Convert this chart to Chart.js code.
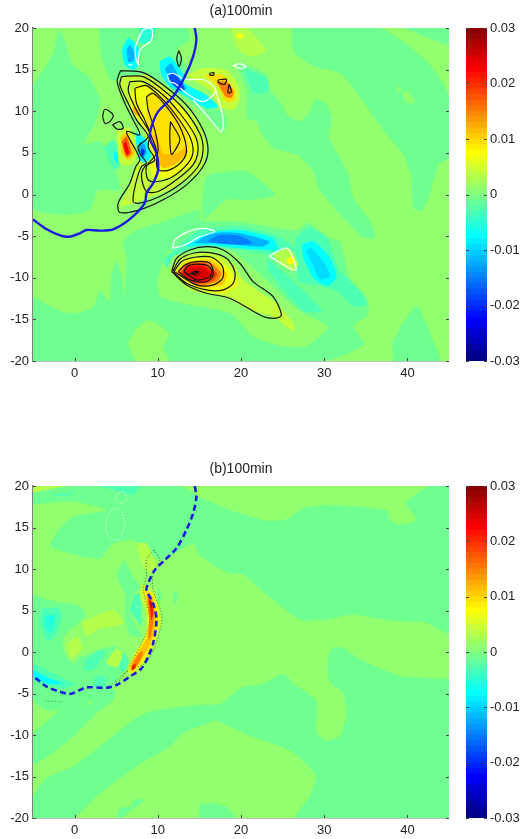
<!DOCTYPE html>
<html>
<head>
<meta charset="utf-8">
<title>100min</title>
<script src="https://cdn.jsdelivr.net/npm/chart.js@4/dist/chart.umd.min.js"></script>
<style>
  html, body { margin: 0; padding: 0; background: #fff; }
  canvas { position: absolute; }
</style>
</head>
<body>
<canvas id="plotA" width="449" height="385" style="left:0;top:0"></canvas>
<canvas id="barA" width="62" height="385" style="left:460px;top:0"></canvas>
<canvas id="plotB" width="449" height="384" style="left:0;top:458px"></canvas>
<canvas id="barB" width="62" height="384" style="left:460px;top:458px"></canvas>
<script>
const xTicks = [0, 10, 20, 30, 40];
const yTicks = [-20, -15, -10, -5, 0, 5, 10, 15, 20];
const barTicks = [-0.03, -0.02, -0.01, 0, 0.01, 0.02, 0.03];
const barEdges = [-0.03,-0.029,-0.028,-0.027,-0.026,-0.025,-0.024,-0.023,-0.022,-0.021,-0.02,-0.019,-0.018,-0.017,-0.016,-0.015,-0.014,-0.013,-0.012,-0.011,-0.01,-0.009,-0.008,-0.007,-0.006,-0.005,-0.004,-0.003,-0.002,-0.001,0,0.001,0.002,0.003,0.004,0.005,0.006,0.007,0.008,0.009,0.01,0.011,0.012,0.013,0.014,0.015,0.016,0.017,0.018,0.019,0.02,0.021,0.022,0.023,0.024,0.025,0.026,0.027,0.028,0.029,0.03];

const frame = [[-5,-20],[45,-20],[45,20],[-5,20]];

// panel (a) shaded field
const aTealRight = [[26.1,20],[26.3,17.2],[28.7,15.4],[31.9,14.6],[33.5,12.8],[35.5,10],[37.5,7.2],[39.5,4.8],[40.5,2],[40.7,-1.6],[41.7,-2],[42.7,0],[43.7,3.6],[45,4.4],[45,11.8],[42.3,16],[36.7,20]];
const aTealCorner = [[39.5,20],[45,18],[45,20]];
const aGreenPatch1 = [[38.7,13.2],[39.3,12.6],[39.1,12.2],[38.7,12.6]];
const aGreenPatch2 = [[39.3,12.2],[40.1,12.4],[40.9,11],[39.9,11]];
const aTealMid = [[20.3,15.68],[23.1,14.4],[23.5,12.4],[24.7,11.2],[25.5,9.6],[27.1,8.8],[28.3,10],[28.9,11.4],[30.3,10.8],[30.9,9.2],[30.6,6.8],[31.9,4.4],[32.9,2.4],[33.5,-0.4],[35.5,-3.2],[36.1,-5.2],[34.7,-5.2],[33.1,-3.6],[31.5,-2],[29.3,0.8],[28.7,2.8],[26.7,4.8],[23.9,5.6],[22.3,7.6],[21.9,8.8],[20.7,9.2],[20.7,12.4],[19.5,15.6]];
const aTealPatch = [[18.7,2.8],[20.7,2.8],[24.1,0],[21.1,-0.7],[18.24,-0.64],[15.44,-3.04],[15.84,2.16]];
const aTealLower = [[-5,-12.3],[-1.4,-14.1],[0.6,-14.2],[2.4,-13.3],[3,-11.5],[4.2,-12.9],[4.4,-9.9],[5,-8],[5.6,-9.5],[6,-12.2],[6.2,-7.5],[5.8,-5.7],[7.4,-4.3],[10.6,-3.3],[15.04,-1.86],[15.06,-3.06],[19.9,-3.3],[26.7,-4.3],[28.1,-3.4],[30.7,-5.2],[31.9,-5.6],[33.1,-10],[35.1,-12.4],[35.3,-14.4],[33.5,-15.8],[34.8,-18],[30,-20],[-5,-20]];
const aGreenBottom = [[6.4,-17.9],[7.4,-16.1],[9,-15.1],[11.4,-16.7],[10.6,-18.3],[11.4,-20],[7.4,-20]];
const aGreenTail = [[9.9,-10.3],[10.3,-12.3],[13.1,-13.1],[18.7,-14.3],[21.5,-17.1],[24.3,-18.1],[27.7,-18.3],[30.5,-15.9],[27.5,-14.3],[25.5,-12.7],[23.5,-10.7],[18.7,-6.7],[11.5,-6.7]];
const aTealBottomRight = [[38.3,-20],[38.3,-17.6],[41.1,-13.4],[43.1,-17.6],[43.9,-20]];
const aTealUpperLeft = [[-1.96,20],[-1.16,18.56],[-0.36,15.76],[1.64,14.16],[3.04,11.36],[2.44,8.56],[1.24,6.16],[3.24,6.36],[4.84,2.96],[5.44,0.56],[2.8,0.5],[1.84,-1.86],[-0.56,-2.46],[-3.36,-2.26],[-5,-1.66],[-5,12.96],[-3.76,14.96],[-2.56,16.96]];
const aTealTop = [[2.84,20],[13.44,20],[13.84,18.56],[12.24,17.36],[13.44,15.36],[13.04,13.36],[18.24,9.36],[17.84,7.36],[15.44,9.76],[10.64,13.36],[7.04,14.16],[4.44,13.76],[3.24,16.56]];
const aLimeTop = [[18.7,20],[20.7,20],[23.1,17.2],[21.1,16.6],[19.5,17.6]];
const aYellowTop = [[19.5,19.4],[20.3,19.2],[20,18.7],[19.5,18.9]];
const aTealSpot = [[20.3,15.2],[23.1,14],[23.3,12.4],[21.5,12.2]];
const aOrange1 = [[13.44,14.36],[15.44,15.16],[18.24,14.96],[19.64,13.16],[19.84,11.36],[19.04,10.16],[17.44,10.56],[16.24,12.56],[14.24,13.76]];
const aOrange2 = [[15.64,14.36],[17.84,14.36],[19.24,12.56],[19.24,11.36],[18.24,11.16],[17.24,12.96]];
const aOrange3 = [[17.04,13.56],[18.24,13.56],[19.12,12.36],[18.84,11.56],[18.16,11.76]];
const aBlue1 = [[10.24,15.96],[11.44,16.56],[13.04,14.56],[13.24,13.36],[15.84,11.96],[17.24,10.56],[15.84,10.36],[13.44,11.76],[11.44,12.96],[10.44,14.36]];
const aBlue2 = [[10.84,15.16],[11.64,15.76],[12.64,13.96],[13.44,12.76],[12.84,12.36],[11.44,13.56]];
const aBlue3 = [[11.24,14.36],[12.04,14.56],[13.04,13.16],[13.24,12.56],[12.64,12.56],[11.64,13.36]];
const aUpperCyan = [[5.64,17.36],[6.44,18.76],[7.64,17.76],[7.84,15.76],[7.04,14.96],[6.04,15.56]];
const aUpperBlue = [[6.24,17.36],[6.64,17.96],[7.24,16.96],[7.04,15.96],[6.44,15.96]];
const aTopCyan = [[7.84,20],[9.64,20],[9.24,18.56],[7.84,18.16]];
const aYellow1 = [[5.64,14.16],[8.64,14.36],[11.84,11.96],[14.64,8.96],[15.84,5.76],[15.04,2.96],[12.24,0.96],[8.24,-0.64],[5.44,-1.44],[6.64,0.96],[7.44,3.76],[9.04,5.76],[7.44,9.36],[5.44,12.56]];
const aYellow2 = [[7.44,13.36],[10.64,12.76],[13.24,10.16],[14.84,6.56],[14.24,3.76],[11.44,1.96],[9.44,2.16],[8.84,4.96],[8.44,7.76],[7.04,9.76],[6.64,11.76]];
const aYellow3 = [[8.84,12.16],[10.64,11.76],[12.64,9.36],[13.76,6.16],[13.24,4.36],[11.24,3.16],[10.04,3.76],[9.24,6.56],[8.64,8.96]];
const aYellow4 = [[9.84,7.36],[10.64,4.96],[12.24,4.96],[13.24,5.56],[13.64,5.16],[12.24,3.76],[10.64,3.16],[10.04,3.96],[9.44,6.96]];
const aYellowSpot = [[7.24,10.56],[8.04,9.76],[7.64,9.36],[6.84,10.16]];
const aRed1 = [[5.04,7.76],[6.64,7.96],[7.64,4.96],[6.84,3.56],[5.44,3.76]];
const aRed2 = [[5.52,6.96],[6.32,7.56],[7.24,4.96],[6.44,4.16],[5.64,4.96]];
const aRed3 = [[5.64,6.36],[6.24,6.96],[6.84,4.96],[6.24,4.48]];
const aRed4 = [[5.84,5.96],[6.16,6.36],[6.56,4.96],[6.24,4.76]];
const aNear1 = [[7.36,7.56],[8.64,6.56],[9.24,4.56],[8.44,3.76],[7.64,4.36],[7.44,5.96]];
const aNear2 = [[7.76,6.36],[8.44,5.96],[8.64,4.96],[8.04,4.36],[7.76,5.16]];
const aNear3 = [[8.04,5.56],[8.44,5.28],[8.24,4.64],[7.96,4.96]];
const aLeft1 = [[3.64,5.76],[4.64,6.56],[5.64,4.96],[5.44,3.36],[4.84,2.96],[4.04,4.16]];
const aLeft2 = [[4.84,5.36],[5.24,4.76],[5.12,3.76],[4.72,4.36]];
const aBand1 = [[10.66,-7.86],[11.86,-6.66],[15.06,-4.26],[19.86,-3.86],[24.26,-4.86],[26.66,-6.66],[24.26,-7.26],[19.86,-6.66],[15.46,-6.26],[11.86,-7.46],[11.06,-8.86]];
const aBand2 = [[13.26,-6.26],[15.86,-4.66],[19.86,-4.26],[23.86,-5.26],[24.46,-6.66],[23.06,-6.66],[19.86,-6.46],[16.26,-6.06]];
const aBand3 = [[14.26,-5.86],[16.66,-4.66],[19.86,-4.66],[23.46,-5.66],[22.66,-6.26],[19.86,-6.06],[16.66,-5.86]];
const aBand4 = [[15.86,-5.66],[17.46,-4.86],[19.86,-4.98],[21.46,-5.86],[19.86,-6.06],[17.06,-5.86]];
const aSide1 = [[26.5,-5.2],[28.1,-4],[30.3,-5.2],[31.9,-9.2],[34.3,-11.6],[35.1,-13.2],[33.5,-13.4],[31.5,-11.6],[28.7,-10.8],[26.9,-10.4]];
const aSide2 = [[27.3,-6],[28.7,-5.6],[30.7,-7.6],[31.5,-10],[30.3,-11],[28.7,-10],[27.5,-7.6]];
const aSide3 = [[27.82,-6.8],[28.5,-6.4],[30.1,-8.4],[30.7,-9.8],[29.5,-10.2],[28.5,-8.2]];
const aSideBand = [[23.1,-7.6],[26.3,-10.4],[29.7,-14],[27.5,-14],[23.3,-9.2]];
const aSpotLime = [[23.9,-7.2],[25.7,-6.4],[26.9,-8.4],[26.3,-9.2],[24.7,-8.4]];
const aSpotYellow = [[25.42,-7.8],[26.3,-7.4],[26.5,-8.2],[25.82,-8.4]];
const aCore1 = [[11.46,-9.26],[12.66,-7.46],[15.86,-6.86],[19.06,-8.26],[20.26,-10.26],[24.26,-13.06],[26.26,-15.46],[26.26,-16.46],[23.86,-14.66],[21.06,-13.86],[17.86,-12.26],[13.86,-11.46]];
const aCore2 = [[11.86,-9.46],[13.46,-7.86],[17.06,-7.66],[18.86,-9.26],[19.66,-10.86],[17.86,-11.86],[14.66,-11.26]];
const aCore3 = [[12.06,-9.46],[13.46,-8.06],[16.46,-7.86],[18.26,-9.46],[17.86,-10.86],[15.06,-11.14]];
const aCore4 = [[12.26,-9.46],[13.46,-8.26],[16.06,-8.06],[17.66,-9.46],[17.06,-10.46],[14.66,-10.98]];
const aCore5 = [[12.66,-9.46],[13.46,-8.46],[15.66,-8.26],[17.14,-9.54],[16.46,-10.46],[14.46,-10.66]];
const aCore6 = [[12.86,-9.46],[13.66,-8.66],[15.46,-8.58],[16.66,-9.54],[16.06,-10.26],[14.26,-10.46]];
const aCore7 = [[13.14,-9.54],[14.06,-8.86],[15.46,-8.86],[16.26,-9.54],[15.66,-10.06],[14.46,-10.26]];
const aCore8 = [[13.86,-9.54],[14.66,-9.14],[15.26,-9.46],[14.66,-9.86]];

const layersA = [
  [0.001, frame], [-0.001, aTealRight], [-0.001, aTealCorner], [0.001, aGreenPatch1], [0.001, aGreenPatch2],
  [-0.001, aTealMid], [-0.001, aTealPatch], [-0.001, aTealLower], [0.001, aGreenBottom], [0.001, aGreenTail], [-0.001, aTealBottomRight],
  [-0.001, aTealUpperLeft], [-0.001, aTealTop], [0.003, aLimeTop], [0.0075, aYellowTop], [-0.003, aTealSpot],
  [0.004, aOrange1], [0.0095, aOrange2], [0.015, aOrange3],
  [-0.0075, aBlue1], [-0.012, aBlue2], [-0.018, aBlue3], [-0.0075, aUpperCyan], [-0.012, aUpperBlue], [-0.005, aTopCyan],
  [0.004, aYellow1], [0.0065, aYellow2], [0.0092, aYellow3], [0.0115, aYellow4], [0.012, aYellowSpot],
  [-0.003, aLeft1], [-0.0075, aLeft2],
  [0.004, aRed1], [0.0105, aRed2], [0.017, aRed3], [0.023, aRed4],
  [-0.0075, aNear1], [-0.013, aNear2], [-0.02, aNear3],
  [-0.003, aBand1], [-0.0075, aBand2], [-0.012, aBand3], [-0.015, aBand4],
  [-0.003, aSide1], [-0.0075, aSide2], [-0.0095, aSide3], [-0.003, aSideBand], [0.003, aSpotLime], [0.0075, aSpotYellow],
  [0.004, aCore1], [0.0065, aCore2], [0.0105, aCore3], [0.015, aCore4], [0.019, aCore5], [0.0225, aCore6], [0.0245, aCore7], [0.028, aCore8]
];

// panel (a) contour lines
const aBlack1 = [[5.52,14.88],[8.24,14.64],[10.64,13.16],[13.44,10.76],[15.44,7.76],[16.04,5.36],[15.44,3.36],[13.44,1.16],[10.64,-0.64],[7.84,-1.84],[5.44,-2.16],[5.24,-1.04],[6.64,1.36],[7.36,3.36],[7.84,4.16],[7.44,5.16],[6.24,7.56],[7.84,7.16],[7.04,8.96],[6.04,10.96],[5.12,13.56]];
const aBlack2 = [[5.64,14.16],[8.24,14.16],[10.64,12.56],[13.04,10.36],[15.04,7.36],[15.44,5.36],[14.84,3.36],[12.84,1.36],[10.24,-0.24],[7.84,-1.04],[7.04,-0.84],[7.36,1.36],[8.04,3.36],[8.64,3.76],[7.84,4.96],[7.64,5.76],[8.84,6.96],[7.44,8.96],[6.44,10.96],[5.44,13.16]];
const aBlack3 = [[6.64,13.56],[8.24,13.56],[10.64,11.96],[12.64,9.76],[14.44,7.16],[14.84,5.36],[14.24,3.56],[12.24,1.76],[10.04,0.36],[8.64,0.36],[8.04,2.16],[8.44,3.36],[9.64,4.16],[8.84,5.76],[9.04,7.36],[7.84,9.36],[6.84,11.36],[6.44,12.56]];
const aBlack4 = [[7.24,12.76],[8.64,13.08],[10.64,11.36],[12.44,9.16],[13.84,6.96],[14.24,5.16],[13.64,3.76],[11.84,2.16],[10.04,1.56],[8.84,1.76],[8.64,3.36],[9.84,4.96],[9.24,6.96],[8.44,8.96],[7.44,10.96]];
const aBlack5 = [[8.64,11.76],[9.44,12.16],[11.04,10.56],[12.64,8.16],[13.44,5.56],[13.04,4.16],[11.44,2.96],[10.04,2.96],[9.84,4.16],[10.04,5.56],[9.64,7.76],[8.84,10.16]];
const aBlack6 = [[11.52,8.76],[12.64,6.76],[12.44,5.96],[11.64,4.84],[11.44,6.96]];
const aBlackIsle1 = [[12.52,17.28],[12.84,16.36],[12.56,15.36],[12.28,16.36]];
const aBlackIsle2 = [[3.36,9.36],[3.64,10.24],[4.64,9.56],[4.24,8.76],[3.64,8.56]];
const aBlackIsle3 = [[4.56,8.36],[5.44,8.76],[5.84,7.96],[5.12,7.84]];
const aBlackIsle4 = [[16.24,14.56],[16.72,14.64],[16.72,14.36],[16.24,14.36]];
const aBlackIsle5 = [[17.24,13.76],[18.24,13.84],[18.04,13.24],[17.32,13.44]];
const aBlackIsle6 = [[18.56,13.28],[18.84,12.36],[18.44,12.24]];
const aLow1 = [[11.66,-9.26],[12.26,-7.66],[13.86,-6.66],[15.86,-6.26],[17.86,-6.66],[19.86,-8.26],[21.46,-10.46],[23.86,-12.26],[24.86,-14.46],[24.26,-14.86],[22.66,-14.66],[18.66,-12.46],[15.86,-11.86],[13.46,-10.86]];
const aLow2 = [[11.78,-9.26],[12.66,-7.78],[14.26,-7.06],[16.26,-6.98],[18.26,-7.66],[19.26,-9.26],[19.06,-10.66],[17.86,-11.46],[15.86,-11.46],[13.46,-10.66]];
const aLow3 = [[11.94,-9.26],[12.86,-8.06],[14.46,-7.54],[16.46,-7.54],[17.78,-8.66],[17.78,-10.06],[16.66,-10.86],[14.66,-10.86]];
const aLow4 = [[12.46,-9.26],[13.26,-8.46],[14.66,-8.06],[16.26,-8.26],[16.66,-9.66],[15.86,-10.46],[13.86,-10.26]];
const aLow5 = [[13.14,-9.26],[13.66,-8.54],[15.78,-8.46],[16.46,-9.06],[16.26,-9.86],[14.66,-10.26]];
const aLow6 = [[13.86,-9.54],[14.46,-9.26],[14.86,-9.26],[14.46,-9.54]];
const aWhite1 = [[11.78,-6.46],[12.06,-5.46],[13.66,-4.46],[15.46,-4.06],[16.86,-4.46],[15.06,-5.06],[13.26,-6.06]];
const aWhite2 = [[23.38,-7.38],[25.54,-6.46],[26.66,-9.06],[25.86,-8.86]];
const aWhite3 = [[7.36,17.96],[8.24,19.76],[9.24,19.96],[9.24,18.56],[7.84,17.36],[7.64,15.56],[7.28,16.96]];
const aWhite4 = [[11.12,14.36],[11.84,14.56],[13.24,13.84],[15.64,13.76],[16.96,12.48],[15.44,11.16],[13.44,12.16],[12.04,13.36],[11.44,13.56]];
const aWhite5 = [[19.04,15.48],[19.84,15.68],[20.64,15.36],[19.84,15.16]];
const aWhiteOpen = [[16.96,12.48],[17.84,9.16],[17.64,7.56],[16.04,9.36],[14.24,11.36]];
const aWhiteDash = [[6.44,15.56],[6.96,15.56]];
const aFront = [[14.44,20],[14.64,18.56],[14.24,16.56],[13.24,14.16],[11.84,11.76],[10.04,9.96],[9.24,8.16],[9.04,6.76],[9.84,4.96],[10.04,2.96],[9.44,1.36],[8.64,0.16],[8.44,-1.04],[6.64,-2.96],[4.64,-4.18],[3.04,-4.34],[1.44,-4.26],[0.64,-4.66],[-0.56,-5.06],[-1.56,-4.98],[-3.36,-4.18],[-5,-3]];

// panel (b) shaded field
const bTealUpper = [[-5,19.12],[-0.16,20],[12.64,20],[15.04,18.63],[18.67,17.12],[23.07,15.84],[25.47,16],[27.47,17.32],[30.27,17.72],[37.47,17.12],[37.87,15.92],[39.07,15.32],[41.07,15.92],[39.87,17.92],[42.67,20],[45,20],[45,2.32],[42.27,3.52],[38.27,3.72],[33.47,4.52],[30.27,3.92],[27.07,3.92],[23.07,6.92],[20.27,9.32],[18.27,9.6],[15.04,11.68],[14.24,13.09],[10.64,11.08],[8.64,12.09],[7.04,13.49],[4.64,13.09],[3.04,11.28],[-0.56,11.88],[-2.96,12.69],[-1.96,14.7],[-0.16,16.3],[3.84,17.1],[-0.16,18.11],[-5,17.9]];
const bLimeCorner = [[-5,20],[-1.36,20],[-3.76,19.52],[-5,19.3]];
const bCyanStreak = [[-2.76,19],[0.24,19.2],[-1.36,18.8]];
const bCyanTop = [[2.64,20],[7.64,20],[7.04,18.9],[4.84,19.52]];
const bTealLower = [[30.87,0.52],[32.27,0.52],[34.27,-0.88],[39.07,-2.88],[43.07,-3.16],[45,-3.4],[45,-20],[26.67,-20],[28.27,-17.28],[28.99,-14.88],[25.87,-11.88],[21.07,-10.08],[17.07,-8.28],[16.24,-8.5],[13.04,-9.78],[11.44,-11.38],[7.44,-13.78],[2.64,-17.38],[-0.2,-20],[-5,-20],[-5,-17.38],[-3.36,-15.18],[-0.16,-13.78],[3.04,-11.38],[7.04,-8.18],[9.04,-7.18],[14.64,-6.38],[17.47,-6.28],[20.07,-4.28],[22.47,-3.88],[25.07,-2.68],[26.47,-3.88],[29.07,-5.88],[29.07,-9.68],[30.27,-10.68],[31.87,-10.08],[32.67,-7.68],[32.27,-4.88],[30.87,-3.88],[30.47,-2.88],[30.47,-0.88]];
const bTealBottom1 = [[15.07,-18.28],[17.07,-18.28],[18.27,-18.68],[19.27,-20],[15.07,-20]];
const bTealBottom2 = [[5.04,-19.78],[5.44,-18.78],[6.84,-18.58],[7.04,-17.78],[8.44,-17.78],[6.64,-19.18],[5.64,-20]];
const bTealBand = [[-5,-9.78],[-1.56,-6.98],[2.04,-6.18],[1.64,-4.58],[4.84,-4.58],[4.64,-5.78],[2.64,-7.38],[-0.16,-10.18],[-2.96,-12.38],[-5,-13.46]];
const bTealLeft = [[-5,6.86],[-2.16,6.06],[0.64,5.54],[1.24,4.25],[-0.96,2.25],[-1.36,0.64],[0.64,-0.57],[2.64,0.24],[5.04,0.64],[6.24,-0.57],[5.44,-2.97],[4.24,-4.38],[1.44,-4.38],[2.04,-5.79],[-0.16,-7],[-3.36,-7],[-5,-5.79]];
const bGreenInner = [[-1.36,1.84],[0.64,3.05],[1.24,0.64],[-0.16,-1.37],[-1.36,0.24]];
const bLimeInner = [[-0.96,1.04],[0.44,1.84],[0.84,0.24],[-0.56,-0.77]];
const bLeft1 = [[-3.96,5.26],[-1.96,5.26],[-1.56,4.25],[-2.36,1.84],[-3.36,1.44],[-4.16,3.45]];
const bLeft2 = [[-3.56,4.46],[-2.36,4.46],[-2.56,2.65],[-3.16,2.25],[-3.68,3.45]];
const bLeft3 = [[-3.04,4.25],[-2.72,4.25],[-2.84,3.25]];
const bLow1 = [[-5,-1.37],[-2.96,-2.37],[-0.96,-3.38],[0.04,-3.98],[-1.76,-4.38],[-5,-3.38]];
const bLow2 = [[-5,-2.17],[-2.96,-3.18],[-1.36,-3.78],[-2.96,-3.86],[-5,-2.98]];
const bMid1 = [[1.24,-0.97],[3.24,0.24],[3.64,-0.17],[2.24,-2.17],[1.24,-2.17]];
const bMid2 = [[5.24,-0.37],[6.04,-0.17],[6.64,-1.77],[5.64,-2.37]];
const bMid3 = [[2.44,-2.97],[3.64,-2.97],[3.64,-4.18],[2.44,-4.18]];
const bLimeCentre = [[0.84,3.65],[4.64,5.06],[5.84,3.45],[2.64,2.65],[1.44,1.84]];
const bLimeSmall = [[3.84,-1.17],[5.04,0.44],[5.76,-0.17],[5.24,-1.77],[4.04,-1.57]];
const bLimeUp = [[7.44,13.09],[8.64,13.09],[9.84,10.28],[9.04,9.47],[8.04,10.68]];
const bTealCentre = [[6.04,11.08],[7.04,9.07],[7.84,7.87],[6.64,6.26],[6.64,4.66],[8.04,1.84],[6.64,2.05],[6.04,4.66],[6.04,7.07],[5.04,9.07],[5.64,10.68]];
const bCyanCentre = [[7.04,6.66],[7.84,7.07],[8.04,3.05],[7.44,3.85],[6.64,5.06]];
const bCyanSmall1 = [[11.84,7.27],[12.44,7.27],[12.24,5.86],[11.92,5.86]];
const bCyanSmall2 = [[10.04,7.87],[10.56,6.86],[10.04,5.86]];
const bEdge1 = [[8.04,8.27],[9.44,7.47],[10.24,5.06],[10.44,3.45],[9.64,0.64],[8.44,-1.37],[7.04,-2.97],[6.24,-2.17],[7.44,0.24],[8.44,1.84],[8.64,3.85],[8.44,5.46],[7.84,6.66]];
const bEdge2 = [[8.24,7.47],[9.36,7.07],[10.04,4.86],[10.04,3.05],[9.24,0.64],[8.04,-1.37],[6.84,-2.57],[6.56,-1.77],[7.64,0.24],[8.56,1.84],[8.84,3.85],[8.64,5.46]];
const bEdge3 = [[8.64,7.27],[9.36,6.66],[9.76,4.86],[9.64,2.85],[9.04,0.84],[7.84,-1.17],[6.84,-2.37],[6.76,-1.57],[7.84,0.24],[8.72,1.84],[8.96,3.85],[8.72,5.86]];
const bEdge4 = [[8.72,6.86],[9.36,6.06],[9.56,4.66],[9.36,2.85],[9.04,1.44],[8.84,1.84],[9.04,3.85],[8.84,5.46]];
const bEdge5 = [[7.64,-0.17],[8.24,0.04],[7.84,-1.17],[7.04,-2.17],[6.84,-1.77]];
const bEdge6 = [[8.88,6.46],[9.36,5.86],[9.44,4.66],[9.24,3.85],[9.12,4.86]];
const bEdge7 = [[6.84,-1.77],[7.36,-1.37],[7.24,-1.97],[6.96,-2.25]];
const bEdge8 = [[8.96,6.26],[9.24,5.94],[9.32,5.26],[9.12,5.46]];

const layersB = [
  [0.001, frame], [-0.001, bTealUpper], [0.003, bLimeCorner], [-0.003, bCyanStreak], [-0.003, bCyanTop],
  [-0.001, bTealLower], [-0.001, bTealBottom1], [-0.001, bTealBottom2], [-0.001, bTealBand], [-0.001, bTealLeft],
  [0.001, bGreenInner], [0.003, bLimeInner], [-0.003, bLeft1], [-0.005, bLeft2], [-0.0075, bLeft3],
  [-0.003, bLow1], [-0.0075, bLow2], [-0.003, bMid1], [-0.003, bMid2], [-0.003, bMid3],
  [0.003, bLimeCentre], [0.003, bLimeSmall], [0.003, bLimeUp], [-0.001, bTealCentre], [-0.003, bCyanCentre],
  [-0.001, bCyanSmall1], [-0.001, bCyanSmall2],
  [0.004, bEdge1], [0.0085, bEdge2], [0.011, bEdge3], [0.015, bEdge4], [0.015, bEdge5], [0.021, bEdge6], [0.021, bEdge7], [0.025, bEdge8]
];

// panel (b) lines
const bFront = [[14.44,20],[14.64,18.71],[14.24,16.7],[13.44,14.7],[12.24,12.49],[10.84,11.08],[9.64,9.88],[8.84,8.27],[8.64,7.47],[9.44,5.86],[9.84,3.85],[9.44,1.04],[8.84,-0.57],[8.04,-1.97],[6.64,-2.97],[5.04,-3.98],[3.84,-4.3],[1.44,-4.26],[0.64,-4.58],[-0.56,-5.06],[-1.76,-4.78],[-3.36,-4.18],[-4.56,-3.26],[-5,-3]];
const bDotted = [[9.52,12.29],[10.24,11.08],[9.44,9.47],[9.44,7.47],[10.44,4.66],[10.44,3.45],[9.64,0.64],[8.44,-1.37],[6.64,-2.17],[4.84,-3.58],[5.44,-3.38],[6.64,-1.57],[8.24,1.44],[9.04,3.85],[8.24,7.67],[8.64,9.07],[8.64,11.08],[9.52,12.29]];
const bDottedLow = [[-3.5,-5.9],[-1.5,-6]];
const bWhite1 = [[4.44,17.1],[5.44,17.19],[6.04,15.5],[5.44,13.69],[4.44,13.57],[3.76,14.7],[3.92,16.1],[4.44,17.1]];
const bWhite2 = [[4.96,18.91],[5.84,19.31],[6.24,18.51],[5.64,17.91],[4.96,18.31],[4.96,18.91]];
const bWhiteDot1 = [[7.44,5.46],[7.84,5.46]];
const bWhiteDot2 = [[7.44,0.64],[7.84,0.64]];

function clamp01(v) { return Math.max(0, Math.min(1, v)); }
function jet(v) {
  const t = 4 * (v + 0.03) / 0.06;
  const r = clamp01(1.5 - Math.abs(t - 3));
  const g = clamp01(1.5 - Math.abs(t - 2));
  const b = clamp01(1.5 - Math.abs(t - 1));
  return 'rgb(' + Math.round(r * 255) + ',' + Math.round(g * 255) + ',' + Math.round(b * 255) + ')';
}

const FONT = { family: '"Liberation Sans", Arial, sans-serif', size: 13 };

function closed(points) { return points.concat([points[0]]); }

function fillSet(layer) {
  return {
    data: closed(layer[1]), showLine: true, fill: 'shape',
    backgroundColor: jet(layer[0]), borderWidth: 0, pointRadius: 0,
    tension: layer[1] === frame ? 0 : 0.2
  };
}
function lineSet(points, color, width, dash) {
  return {
    data: points, showLine: true, fill: false, borderColor: color,
    borderWidth: width, borderDash: dash || [], pointRadius: 0, tension: 0.3
  };
}

// MATLAB style inward tick marks
const insideTicks = {
  id: 'insideTicks',
  afterDraw(chart) {
    const ctx = chart.ctx, a = chart.chartArea;
    ctx.save();
    ctx.strokeStyle = '#444';
    ctx.lineWidth = 1;
    ctx.beginPath();
    const y = chart.scales.y;
    y.ticks.forEach(function (t) {
      const p = Math.round(y.getPixelForValue(t.value)) + 0.5;
      ctx.moveTo(a.left, p); ctx.lineTo(a.left + 3, p);
      ctx.moveTo(a.right - 3, p); ctx.lineTo(a.right, p);
    });
    if (chart.config.type === 'scatter') {
      const x = chart.scales.x;
      x.ticks.forEach(function (t) {
        const p = Math.round(x.getPixelForValue(t.value)) + 0.5;
        ctx.moveTo(p, a.bottom); ctx.lineTo(p, a.bottom - 3);
      });
    }
    ctx.stroke();
    ctx.restore();
  }
};

function axisTicks(values) {
  return function (scale) { scale.ticks = values.map(function (v) { return { value: v }; }); };
}

function drawPlot(id, titleText, layers, lines) {
  const datasets = layers.map(fillSet).concat(lines);
  datasets.forEach(function (d, i) { d.order = datasets.length - i; });
  new Chart(document.getElementById(id), {
    type: 'scatter',
    data: { datasets: datasets },
    plugins: [insideTicks],
    options: {
      responsive: false,
      animation: false,
      layout: { padding: 0 },
      plugins: {
        legend: { display: false },
        tooltip: { enabled: false },
        title: {
          display: true, text: titleText, fullSize: false,
          color: '#222', font: { family: FONT.family, size: 14, weight: 'normal' },
          padding: { top: 3.2, bottom: 8 }
        }
      },
      scales: {
        x: {
          type: 'linear', min: -5, max: 45,
          afterBuildTicks: axisTicks(xTicks),
          afterFit: function (s) { s.height = 24; },
          grid: { display: false, drawTicks: false },
          border: { color: '#808080', width: 1.5 },
          ticks: { color: '#222', font: FONT, padding: 5, maxRotation: 0, autoSkip: false, callback: function (v) { return String(v); } }
        },
        y: {
          type: 'linear', min: -20, max: 20,
          afterBuildTicks: axisTicks(yTicks),
          afterFit: function (s) { s.width = 33; },
          grid: { display: false, drawTicks: false },
          border: { color: '#808080', width: 1.5 },
          ticks: { color: '#222', font: FONT, padding: 4, autoSkip: false, callback: function (v) { return String(v); } }
        }
      }
    }
  });
}

function drawColorbar(id) {
  const bands = [];
  for (let i = 0; i < barEdges.length - 1; i++) {
    bands.push({
      data: [[barEdges[i], barEdges[i + 1]]],
      backgroundColor: jet((barEdges[i] + barEdges[i + 1]) / 2),
      borderWidth: 0, grouped: false, barPercentage: 1, categoryPercentage: 1
    });
  }
  new Chart(document.getElementById(id), {
    type: 'bar',
    data: { labels: ['c'], datasets: bands },
    plugins: [insideTicks],
    options: {
      responsive: false,
      animation: false,
      layout: { padding: { left: 6, top: 28, bottom: 24 } },
      plugins: { legend: { display: false }, tooltip: { enabled: false } },
      scales: {
        x: { display: false },
        y: {
          position: 'right', min: -0.03, max: 0.03,
          afterBuildTicks: axisTicks(barTicks),
          afterFit: function (s) { s.width = 35; },
          grid: { display: false, drawTicks: false },
          border: { display: false },
          ticks: { color: '#222', font: FONT, padding: 3, autoSkip: false, callback: function (v) { return String(v); } }
        }
      }
    }
  });
}

const linesA = [aBlack1, aBlack2, aBlack3, aBlack4, aBlack5, aBlack6, aBlackIsle1, aBlackIsle2, aBlackIsle3, aBlackIsle4, aBlackIsle5, aBlackIsle6, aLow1, aLow2, aLow3, aLow4, aLow5, aLow6]
  .map(function (p) { return lineSet(closed(p), '#111', 1.2); })
  .concat([aWhite1, aWhite2, aWhite3, aWhite4, aWhite5].map(function (p) { return lineSet(closed(p), '#fff', 1.2); }))
  .concat([lineSet(aWhiteOpen, '#fff', 1.2), lineSet(aWhiteDash, '#fff', 1.2), lineSet(aFront, '#1a1ae0', 2.4)]);

const linesB = [
  lineSet(bDotted, 'rgba(40,70,40,0.8)', 1, [1, 2]),
  lineSet(bDottedLow, 'rgba(40,70,40,0.6)', 1, [1, 2]),
  lineSet(bWhite1, '#fff', 1, [1, 2]),
  lineSet(bWhite2, '#fff', 1, [1, 2]),
  lineSet(bWhiteDot1, '#fff', 1, [1, 2]),
  lineSet(bWhiteDot2, '#fff', 1, [1, 2]),
  lineSet(bFront, '#1a1ae0', 2.6, [6, 3.5])
];

drawPlot('plotA', '(a)100min', layersA, linesA);
drawColorbar('barA');
drawPlot('plotB', '(b)100min', layersB, linesB);
drawColorbar('barB');
</script>
</body>
</html>
